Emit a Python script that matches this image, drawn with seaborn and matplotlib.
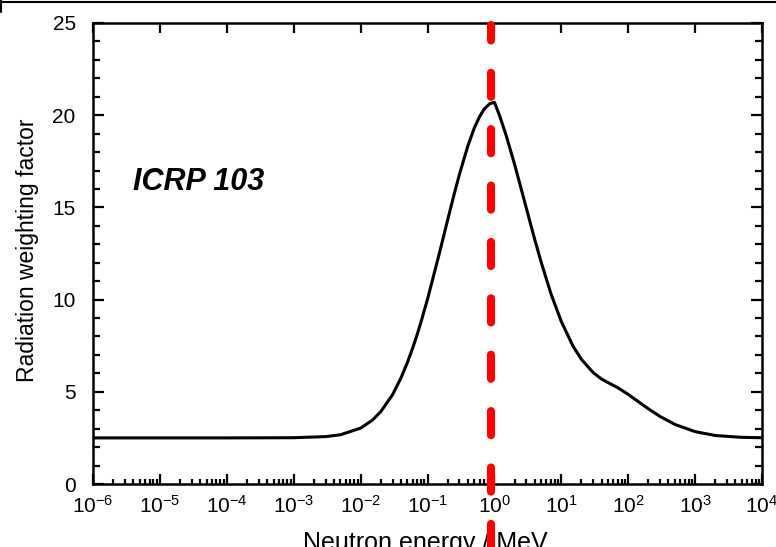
import matplotlib
matplotlib.use("Agg")
import matplotlib.pyplot as plt
import seaborn as sns
import pandas as pd
import numpy as np
from matplotlib.lines import Line2D
from matplotlib.ticker import LogLocator, MultipleLocator

# Neutron energy (MeV) and radiation weighting factor
energy = [1e-6, 1e-5, 1e-4, 1e-3, 3e-3, 5e-3, 1e-2, 1.5e-2, 2e-2, 3e-2, 4e-2,
          5e-2, 6e-2, 7e-2, 8e-2, 0.1, 0.15, 0.2, 0.25, 0.3, 0.4, 0.5, 0.6,
          0.7, 0.85, 1.0, 1.2, 1.5, 2.0, 2.5, 3.0, 4.0, 5.0, 7.0, 10.0, 15.0,
          20.0, 30.0, 40.0, 50.0, 70.0, 100.0, 150.0, 200.0, 300.0, 500.0,
          1000.0, 2000.0, 5000.0, 10000.0]
w_r = [2.50, 2.50, 2.50, 2.51, 2.57, 2.67, 3.03, 3.46, 3.92, 4.84, 5.74,
       6.58, 7.37, 8.10, 8.79, 10.02, 12.49, 14.32, 15.71, 16.79, 18.32,
       19.30, 19.92, 20.32, 20.62, 20.70, 19.96, 18.90, 17.34, 16.04, 14.96,
       13.27, 12.03, 10.32, 8.81, 7.47, 6.76, 6.04, 5.69, 5.50, 5.22, 4.86,
       4.40, 4.08, 3.66, 3.23, 2.84, 2.63, 2.53, 2.51]
marker_energy = 0.88
annotation = "ICRP 103"
x_label = "Neutron energy / MeV"
y_label = "Radiation weighting factor"

sns.set_style("ticks")
plt.rcParams["font.family"] = ["Liberation Sans", "DejaVu Sans"]
plt.rcParams["mathtext.fontset"] = "custom"
plt.rcParams["mathtext.rm"] = "Liberation Sans"
plt.rcParams["mathtext.it"] = "Liberation Sans:italic"
plt.rcParams["axes.unicode_minus"] = False
plt.rcParams["text.color"] = "black"
plt.rcParams["axes.labelcolor"] = "black"
plt.rcParams["xtick.color"] = "black"
plt.rcParams["ytick.color"] = "black"

df = pd.DataFrame({"energy": energy, "wr": w_r})

fig = plt.figure(figsize=(7.76, 5.47), dpi=100)
ax = fig.add_axes([93 / 776, 1 - 484 / 547, (762 - 93) / 776, (484 - 23) / 547])

sns.lineplot(data=df, x="energy", y="wr", ax=ax, color="black", linewidth=2.2)
ax.set_xscale("log")
ax.set_xlim(1e-6, 1e4)
ax.set_ylim(0, 25)

ax.axvline(marker_energy, ymin=-0.15, ymax=0.996, color="#ff0000", linewidth=5.8,
           linestyle=(0, (3.0, 4.0)), dash_capstyle="round", clip_on=False, zorder=5)

ax.text(0.06, 0.655, annotation, transform=ax.transAxes, fontsize=22,
        fontweight="bold", fontstyle="italic", ha="left", va="center", color="black")

ax.xaxis.set_major_locator(LogLocator(base=10, numticks=20))
ax.xaxis.set_minor_locator(LogLocator(base=10, subs=np.arange(2, 10), numticks=20))
ax.yaxis.set_major_locator(MultipleLocator(5))
ax.yaxis.set_minor_locator(MultipleLocator(1))

for side in ["left", "right", "top", "bottom"]:
    ax.spines[side].set_linewidth(1.8)
    ax.spines[side].set_color("black")

ax.tick_params(axis="both", which="both", direction="in", color="black",
               labelcolor="black", width=1.6)
ax.tick_params(axis="x", which="major", length=7, top=True, labelsize=15, pad=8)
ax.tick_params(axis="x", which="minor", length=3.6, top=False, bottom=True)
ax.tick_params(axis="y", which="major", length=8, right=True, labelsize=15, pad=12.5)
ax.tick_params(axis="y", which="minor", length=5, right=True)

ax.set_xlabel(x_label, fontsize=18, color="black")
ax.set_ylabel(y_label, fontsize=16.5, color="black")
ax.xaxis.set_label_coords(0.497, -0.101)
ax.yaxis.set_label_coords(-0.08, 0.508)

# frame line along the top edge of the picture
fig.add_artist(Line2D([0, 1], [1 - 2 / 547, 1 - 2 / 547], transform=fig.transFigure,
                      color="black", linewidth=1.5))
fig.add_artist(Line2D([1 / 776, 1 / 776], [1, 1 - 12 / 547], transform=fig.transFigure,
                      color="black", linewidth=1.5))

fig.savefig("out.png", dpi=100)
